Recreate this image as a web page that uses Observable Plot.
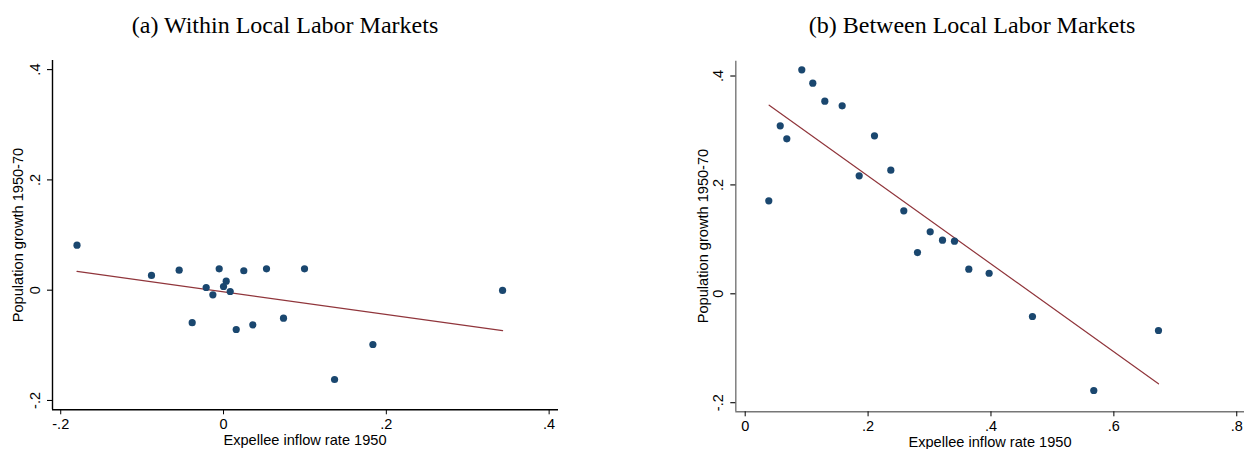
<!DOCTYPE html>
<html><head><meta charset="utf-8">
<script src="https://cdn.jsdelivr.net/npm/d3@7"></script>
<script src="https://cdn.jsdelivr.net/npm/@observablehq/plot@0.6"></script>
<style>
body{margin:0;background:#fff;width:1244px;height:449px;overflow:hidden;position:relative;}
.title{position:absolute;top:12px;font-family:"Liberation Serif","Times New Roman",serif;font-size:24px;color:#000;white-space:nowrap;transform:translateX(-50%);}
.panel{position:absolute;top:50px;}
.xl{position:absolute;font-family:"Liberation Sans",Arial,sans-serif;font-size:14.6px;color:#000;white-space:nowrap;transform:translateX(-50%);}
.yl{position:absolute;font-family:"Liberation Sans",Arial,sans-serif;font-size:14.6px;color:#000;white-space:nowrap;transform:translate(-50%,-50%) rotate(-90deg);}
</style></head>
<body>
<div class="title" style="left:285px">(a) Within Local Labor Markets</div>
<div class="title" style="left:972px">(b) Between Local Labor Markets</div>
<div id="a" class="panel" style="left:0px"></div>
<div id="b" class="panel" style="left:644px"></div>
<div class="xl" style="left:305px;top:432px">Expellee inflow rate 1950</div>
<div class="xl" style="left:990px;top:434px">Expellee inflow rate 1950</div>
<div class="yl" style="left:18px;top:235px">Population growth 1950-70</div>
<div class="yl" style="left:703px;top:236px">Population growth 1950-70</div>
<script>
// Panel (a): within local labor markets
const withinX = [-0.180,-0.0885,-0.0545,-0.0385,-0.0213,-0.0131,-0.0053,0.0,0.0033,0.0082,0.0156,0.0249,0.036,0.0528,0.0737,0.0995,0.1364,0.1835,0.3428];
const withinY = [0.0816,0.0267,0.0363,-0.059,0.0049,-0.0084,0.0388,0.0067,0.0163,-0.0024,-0.0713,0.0352,-0.0628,0.0388,-0.0508,0.0388,-0.162,-0.0985,-0.0005];
const withinFitX = [-0.180,0.3428];
const withinFitY = [0.034,-0.0733];
const withinXTicks = [-0.2,0,0.2,0.4];
const withinYTicks = [-0.2,0,0.2,0.4];

// Panel (b): between local labor markets
const betweenX = [0.0384,0.057,0.0677,0.0921,0.110,0.1296,0.1578,0.1855,0.2104,0.2370,0.2581,0.2804,0.3011,0.3211,0.3406,0.3639,0.397,0.4675,0.5673,0.6726];
const betweenY = [0.1708,0.3085,0.2846,0.4114,0.3868,0.3537,0.3452,0.2167,0.2901,0.2270,0.1524,0.0758,0.1138,0.0985,0.0966,0.0452,0.0378,-0.0417,-0.1776,-0.0674];
const betweenFitX = [0.039,0.6726];
const betweenFitY = [0.3464,-0.1653];
const betweenXTicks = [0,0.2,0.4,0.6,0.8];
const betweenYTicks = [-0.2,0,0.2,0.4];

const fmt = v => {
  if (Math.abs(v) < 1e-9) return "0";
  const s = Math.abs(v).toFixed(1).replace(/^0\./, ".");
  return (v < 0 ? "-" : "") + s;
};
const DOT = "#1a476f", FIT = "#90353b";

function panel({xs, ys, fx, fy, xTicks, yTicks, xDomain, yDomain, ml, mr, mt, mb, axisColor}) {
  const pts = xs.map((x, i) => ({x, y: ys[i]}));
  const fit = fx.map((x, i) => ({x, y: fy[i]}));
  return Plot.plot({
    width: 600, height: 399,
    marginLeft: ml, marginRight: mr, marginTop: mt, marginBottom: mb,
    x: {domain: xDomain},
    y: {domain: yDomain},
    style: {fontFamily: "Liberation Sans, Arial, sans-serif", fontSize: "14px", color: "#000", background: "#fff", overflow: "visible"},
    marks: [
      Plot.ruleX([xDomain[0]], {stroke: axisColor, strokeWidth: 1.4}),
      Plot.ruleY([yDomain[0]], {stroke: axisColor, strokeWidth: 1.4}),
      Plot.axisX({ticks: xTicks, tickFormat: fmt, tickSize: 5, tickPadding: 4, label: null, stroke: "#000", fontSize: 14.5}),
      Plot.axisY({ticks: yTicks, tickFormat: () => "", tickSize: 5, label: null, stroke: "#000", strokeWidth: 1.1}),
      Plot.axisY({ticks: yTicks, tickFormat: fmt, tickSize: 0, tickPadding: 17, label: null, rotate: -90, textAnchor: "middle", fontSize: 14.5}),
      Plot.line(fit, {x: "x", y: "y", stroke: FIT, strokeWidth: 1.2}),
      Plot.dot(pts, {x: "x", y: "y", r: 3.6, fill: DOT, stroke: "none"})
    ]
  });
}

document.getElementById("a").append(panel({
  xs: withinX, ys: withinY, fx: withinFitX, fy: withinFitY,
  xTicks: withinXTicks, yTicks: withinYTicks,
  xDomain: [-0.2101, 0.4115], yDomain: [-0.2169, 0.4165],
  ml: 52, mr: 42, mt: 10, mb: 39.7, axisColor: "#000"
}));
document.getElementById("b").append(panel({
  xs: betweenX, ys: betweenY, fx: betweenFitX, fy: betweenFitY,
  xTicks: betweenXTicks, yTicks: betweenYTicks,
  xDomain: [-0.0153, 0.8126], yDomain: [-0.2167, 0.4272],
  ml: 91.3, mr: 0, mt: 10.7, mb: 37.7, axisColor: "#777"
}));
</script>
</body></html>
